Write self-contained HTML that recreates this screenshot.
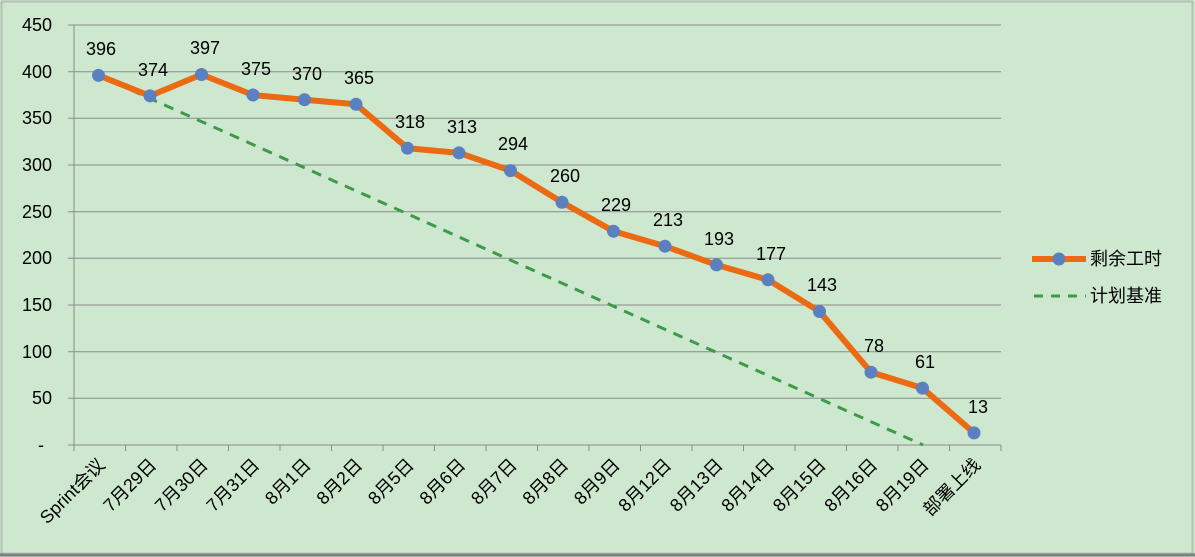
<!DOCTYPE html>
<html><head><meta charset="utf-8"><style>
body{margin:0;background:#cde8cf;}
svg{display:block;font-family:"Liberation Sans","Noto Sans CJK SC",sans-serif;}
</style></head><body>
<svg width="1195" height="557" xmlns="http://www.w3.org/2000/svg">
<rect x="0" y="0" width="1195" height="557" fill="#cde8cf"/>
<rect x="1.5" y="1.5" width="1191" height="552" fill="none" stroke="#9a9a9a" stroke-width="2" stroke-dasharray="1,1"/>
<line x1="0" y1="555" x2="1195" y2="555" stroke="#808080" stroke-width="3"/>
<g stroke="#8a8a8a" stroke-width="1">
<line x1="68" y1="25" x2="1001" y2="25"/>
<line x1="68" y1="71.7" x2="1001" y2="71.7"/>
<line x1="68" y1="118.3" x2="1001" y2="118.3"/>
<line x1="68" y1="165" x2="1001" y2="165"/>
<line x1="68" y1="211.7" x2="1001" y2="211.7"/>
<line x1="68" y1="258.3" x2="1001" y2="258.3"/>
<line x1="68" y1="305" x2="1001" y2="305"/>
<line x1="68" y1="351.7" x2="1001" y2="351.7"/>
<line x1="68" y1="398.3" x2="1001" y2="398.3"/>
<line x1="68" y1="445" x2="1001" y2="445"/>
<line x1="74" y1="25" x2="74" y2="445"/>
</g>
<g stroke="#8a8a8a" stroke-width="1" id="ticks"></g>
<g font-size="18" fill="#000" text-anchor="end">
<text x="52" y="31">450</text><text x="52" y="78">400</text><text x="52" y="124">350</text>
<text x="52" y="171">300</text><text x="52" y="218">250</text><text x="52" y="264">200</text>
<text x="52" y="311">150</text><text x="52" y="358">100</text><text x="52" y="404">50</text>
<text x="44" y="451">-</text>
</g>
<line x1="98.5" y1="75.4" x2="923" y2="445" stroke="#3e9a4a" stroke-width="3" stroke-dasharray="10,8"/>
<polyline fill="none" stroke="#ec6b12" stroke-width="6" stroke-linejoin="round" points="98.5,75.4 150,95.9 201.5,74.5 253,95 304.5,99.7 356,104.3 407.5,148.2 459,152.9 510.5,170.6 562,202.3 613.5,231.3 665,246.2 716.5,264.9 768,279.8 819.5,311.5 871,372.2 922.5,388.1 974,432.9"/>
<g fill="#5b80c0">
<circle cx="98.5" cy="75.4" r="6.5"/><circle cx="150" cy="95.9" r="6.5"/><circle cx="201.5" cy="74.5" r="6.5"/><circle cx="253" cy="95" r="6.5"/><circle cx="304.5" cy="99.7" r="6.5"/><circle cx="356" cy="104.3" r="6.5"/><circle cx="407.5" cy="148.2" r="6.5"/><circle cx="459" cy="152.9" r="6.5"/><circle cx="510.5" cy="170.6" r="6.5"/><circle cx="562" cy="202.3" r="6.5"/><circle cx="613.5" cy="231.3" r="6.5"/><circle cx="665" cy="246.2" r="6.5"/><circle cx="716.5" cy="264.9" r="6.5"/><circle cx="768" cy="279.8" r="6.5"/><circle cx="819.5" cy="311.5" r="6.5"/><circle cx="871" cy="372.2" r="6.5"/><circle cx="922.5" cy="388.1" r="6.5"/><circle cx="974" cy="432.9" r="6.5"/>
</g>
<g font-size="18" fill="#000" text-anchor="middle">
<text x="101" y="55">396</text><text x="153" y="76">374</text><text x="205" y="54">397</text><text x="256" y="75">375</text><text x="307" y="80">370</text><text x="359" y="84">365</text><text x="410" y="128">318</text><text x="462" y="133">313</text><text x="513" y="150">294</text><text x="565" y="182">260</text><text x="616" y="211">229</text><text x="668" y="226">213</text><text x="719" y="245">193</text><text x="771" y="260">177</text><text x="822" y="291">143</text><text x="874" y="352">78</text><text x="925" y="368">61</text><text x="978" y="413">13</text>
</g>
<g font-size="18" fill="#000" text-anchor="end">
<text transform="translate(106,466) rotate(-45)">Sprint会议</text>
<text transform="translate(157.5,466) rotate(-45)">7月29日</text>
<text transform="translate(209,466) rotate(-45)">7月30日</text>
<text transform="translate(260.5,466) rotate(-45)">7月31日</text>
<text transform="translate(312,466) rotate(-45)">8月1日</text>
<text transform="translate(363.5,466) rotate(-45)">8月2日</text>
<text transform="translate(415,466) rotate(-45)">8月5日</text>
<text transform="translate(466.5,466) rotate(-45)">8月6日</text>
<text transform="translate(518,466) rotate(-45)">8月7日</text>
<text transform="translate(569.5,466) rotate(-45)">8月8日</text>
<text transform="translate(621,466) rotate(-45)">8月9日</text>
<text transform="translate(672.5,466) rotate(-45)">8月12日</text>
<text transform="translate(724,466) rotate(-45)">8月13日</text>
<text transform="translate(775.5,466) rotate(-45)">8月14日</text>
<text transform="translate(827,466) rotate(-45)">8月15日</text>
<text transform="translate(878.5,466) rotate(-45)">8月16日</text>
<text transform="translate(930,466) rotate(-45)">8月19日</text>
<text transform="translate(981.5,466) rotate(-45)">部署上线</text>
</g>
<line x1="1032" y1="259" x2="1086" y2="259" stroke="#ec6b12" stroke-width="6"/>
<circle cx="1059" cy="259" r="6.5" fill="#5b80c0"/>
<line x1="1034" y1="296" x2="1086" y2="296" stroke="#3e9a4a" stroke-width="3" stroke-dasharray="9,8"/>
<g font-size="18" fill="#000">
<text x="1090" y="265">剩余工时</text>
<text x="1090" y="302">计划基准</text>
</g>
<script>
var g=document.getElementById('ticks');for(var i=0;i<=18;i++){var x=74+51.5*i;var l=document.createElementNS('http://www.w3.org/2000/svg','line');l.setAttribute('x1',x);l.setAttribute('x2',x);l.setAttribute('y1',445);l.setAttribute('y2',451);g.appendChild(l);}
</script>
</svg>
</body></html>
